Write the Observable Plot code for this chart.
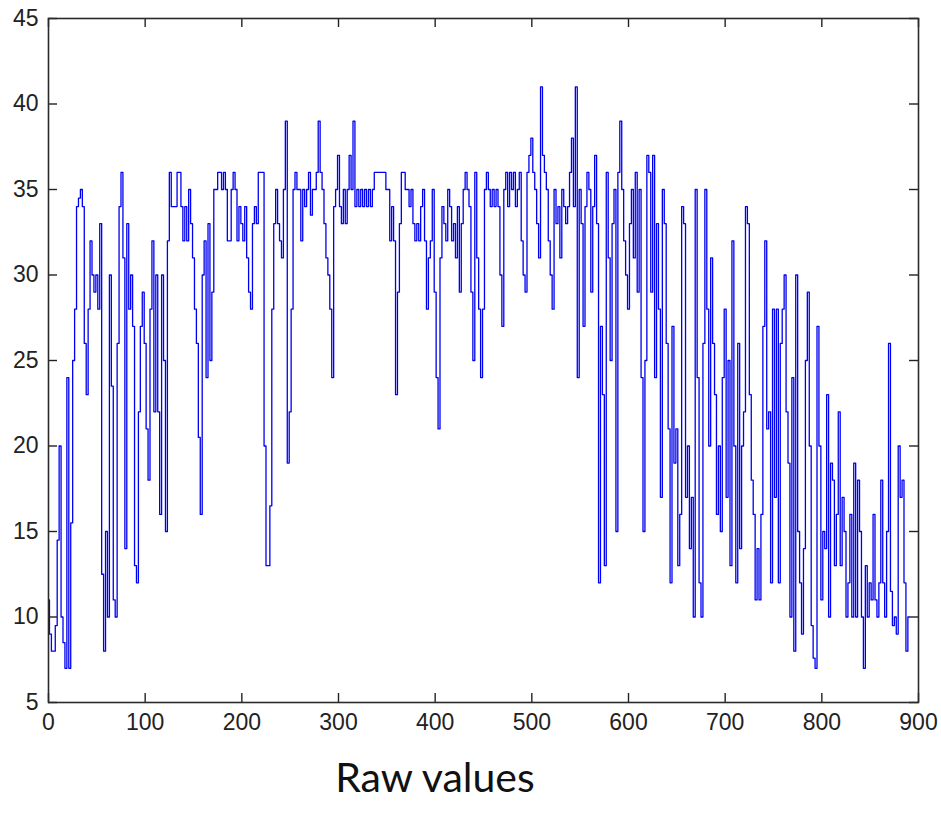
<!DOCTYPE html>
<html>
<head>
<meta charset="utf-8">
<script src="https://cdn.jsdelivr.net/npm/d3@7"></script>
<script src="https://cdn.jsdelivr.net/npm/@observablehq/plot@0.6"></script>
<style>
  html, body { margin: 0; padding: 0; background: #fff; }
  #wrap { position: relative; width: 941px; height: 823px; }
  #caption { position: absolute; left: 315px; top: 752px; width: 240px; text-align: center;
    font-family: Lato, "Open Sans", sans-serif; font-size: 41px; color: #111; white-space: nowrap; }
</style>
</head>
<body>
<div id="wrap"><div id="chart"></div><div id="caption">Raw values</div></div>
<script>
const seg000 = [11,9,8,8,9.5,14.5,20,10,8.5,7, 24,7,15.5,25,28,34,34.5,35,34,26, 23,28,32,30,29,30,28,33,12.5,8, 15,10,30,23.5,11,10,26,34,36,31, 14,33,28,30,27,13,12,22,27,29];
const seg100 = [26,21,18,28,32,22,30,22,16,30, 25,15,32,36,34,34,34,36,36,34, 32,34,32,35,33,31,28,26,20.5,16, 30,32,24,33,25,29,35,35,36,36, 35,36,35,32,32,35,36,35,32,34];
const seg200 = [33,32,34,31,29,28,33,34,33,36, 36,36,20,13,13,16.5,28,33,35,33, 32,31,35,39,19,22,28,35,36,35, 35,32,35,34,35,36,33.5,35,35,36, 39,36,35,33,31,30,28,24,34,35];
const seg300 = [37,34,33,35,33,35,37,35,39,34, 35,34,35,34,35,34,35,34,35,36, 36,36,36,36,36,35,35,32,34,32, 23,29,33,36,36,35,35,34,35,33, 32,33,32,34,35,32,28,31,32,35];
const seg400 = [29,24,21,31,34,33,32,35,34,32, 33,31,34,29,33,35,36,35,34,29, 25,36,31,28,24,28,35,36,35,34, 35,34,35,34,30,27,35,36,34,36, 35,36,34,35,36,32,30,29,36,37];
const seg500 = [38,36,35,33,31,41,37,36,35,32, 30,28,35,33,34,31,35,34,33,34, 36,38,34,41,24,35,33,27,34,36, 35,29,34,37,33,12,27,23,13,36, 31,25,33,35,15,36,39,35,32,30];
const seg600 = [28,33,35,31,36,29,35,24,15,25, 37,36,29,37,24,33,28,17,35,33, 26,21,12,27,19,21,13,16,34,33, 17,20,14,17,10,35,24,12,10,26, 35,28,20,31,26,23,16,20,15,24];
const seg700 = [28,17,25,13,32,20,12,26,14,20, 22,34,33,23,18,16,11,14,11,16, 27,32,21,22,12,28,17,28,12,26, 28,30,22,19,10,24,8,30,15,12, 9,14,25,29,20,9.5,7.6,7,27,20];
const seg800 = [11,15,14,23,10,19,18,13,16,22, 13,17,15,10,12,16,10,19,10,18, 15,10,7,13,10,12,11,16,11,10, 12,18,12,10,15,26,11.5,9.5,10,9, 20,17,18,12,8,10];
const sampleStep = 2;

const xTicks = [0,100,200,300,400,500,600,700,800,900];
const yTicks = [5,10,15,20,25,30,35,40,45];
const xDomain = [0, 900];
const yDomain = [5, 45];

const values = [].concat(seg000, seg100, seg200, seg300, seg400, seg500, seg600, seg700, seg800);
const data = values.map((v, i) => ({i: i * sampleStep, v}));

const W = 941, H = 740, mT = 18, mB = 38, mL = 48, mR = 23, tick = 9;
const innerW = W - mL - mR, innerH = H - mT - mB;
const tickInner = {stroke: "#222", strokeWidth: 1.4};

const chart = Plot.plot({
  width: W,
  height: H,
  marginTop: mT,
  marginBottom: mB,
  marginLeft: mL,
  marginRight: mR,
  style: {fontFamily: "Arial, 'Liberation Sans', sans-serif", fontSize: "23px", color: "#222", background: "#fff"},
  x: {domain: xDomain},
  y: {domain: yDomain},
  marks: [
    Plot.line(data, {x: "i", y: "v", curve: "step", stroke: "#0000f0", strokeWidth: 1.3}),
    // inward ticks on all four sides (MATLAB style)
    Plot.tickX(xTicks, {x: d => d, insetTop: innerH - tick, ...tickInner}),
    Plot.tickX(xTicks, {x: d => d, insetBottom: innerH - tick, ...tickInner}),
    Plot.tickY(yTicks, {y: d => d, insetRight: innerW - tick, ...tickInner}),
    Plot.tickY(yTicks, {y: d => d, insetLeft: innerW - tick, ...tickInner}),
    Plot.frame({stroke: "#2a2a2a", strokeWidth: 1.6}),
    Plot.axisX(xTicks, {anchor: "bottom", tickSize: 0, tickPadding: 11, label: null, fill: "#222"}),
    Plot.axisY(yTicks, {anchor: "left", tickSize: 0, tickPadding: 10, label: null, fill: "#222"})
  ]
});
document.getElementById("chart").appendChild(chart);
</script>
</body>
</html>
